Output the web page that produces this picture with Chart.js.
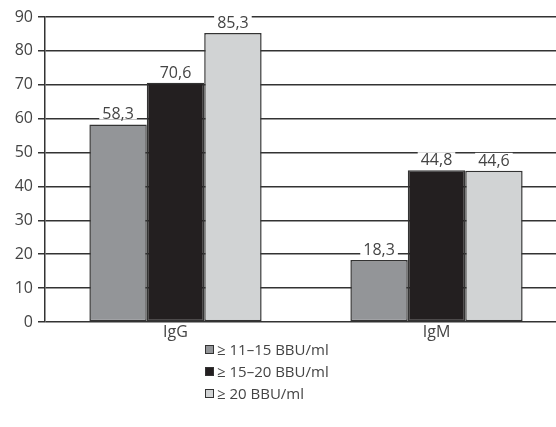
<!DOCTYPE html>
<html>
<head>
<meta charset="utf-8">
<script src="https://cdn.jsdelivr.net/npm/chart.js@4"></script>
<style>
  body { margin: 0; background: #fff; overflow: hidden; width: 556px; height: 427px; }
  #wrap { position: absolute; left: 0; top: 0; width: 567px; height: 351px; }
  #legend { position: absolute; left: 205px; top: 338px; font: 15px "Open Sans", sans-serif; color: #444; }
  #legend div { height: 22px; line-height: 22px; display: flex; align-items: center; }
  #legend span.box { display: inline-block; width: 7px; height: 7px; border: 1px solid #333; margin-right: 3px; }
</style>
</head>
<body>
<div id="wrap"><canvas id="chart"></canvas></div>
<div id="legend"></div>
<script>
// antibody classes on the x axis
const categories = ["IgG", "IgM"];
// one series per titre band
const seriesNames = ["\u2265 11\u201315 BBU/ml", "\u2265 15\u201320 BBU/ml", "\u2265 20 BBU/ml"];
const band11to15 = [58.3, 18.3];
const band15to20 = [70.6, 44.8];
const band20plus = [85.3, 44.6];
const yTicks = [0, 10, 20, 30, 40, 50, 60, 70, 80, 90];

const fills = ["#939598", "#231f20", "#d1d3d4"];
const lineColor = "#333";
const textColor = "#444";
const font = { family: "'Open Sans', sans-serif", size: 16 };

// value labels above each bar, on a white patch so grid lines don't cut through
const valueLabels = {
  id: "valueLabels",
  afterDatasetsDraw(chart) {
    const ctx = chart.ctx;
    ctx.save();
    ctx.font = "16px 'Open Sans', sans-serif";
    ctx.textAlign = "center";
    ctx.textBaseline = "alphabetic";
    chart.data.datasets.forEach((ds, i) => {
      chart.getDatasetMeta(i).data.forEach((bar, j) => {
        const txt = ds.data[j].toFixed(1).replace(".", ",");
        const w = ctx.measureText(txt).width;
        const base = bar.y - 5;
        ctx.fillStyle = "#fff";
        ctx.fillRect(bar.x - w / 2 - 3, base - 13, w + 6, 13);
        ctx.fillStyle = textColor;
        ctx.fillText(txt, bar.x, base);
      });
    });
    ctx.restore();
  }
};

const chart = new Chart(document.getElementById("chart"), {
  type: "bar",
  data: {
    labels: categories,
    datasets: [band11to15, band15to20, band20plus].map((d, i) => ({
      label: seriesNames[i],
      data: d,
      backgroundColor: fills[i],
      borderColor: lineColor,
      borderWidth: 1.5,
      borderSkipped: false,
      categoryPercentage: 0.66,
      barPercentage: 1
    }))
  },
  options: {
    responsive: true,
    maintainAspectRatio: false,
    animation: false,
    layout: { padding: { top: 17, left: 0, right: 0, bottom: 0 } },
    plugins: { legend: { display: false }, tooltip: { enabled: false } },
    scales: {
      x: {
        afterFit: (s) => { s.height = 29; },
        grid: { display: false, drawTicks: false, tickLength: 0 },
        border: { display: false },
        ticks: { color: textColor, font: font, padding: 1 }
      },
      y: {
        min: 0,
        max: 90,
        afterBuildTicks: (s) => { s.ticks = yTicks.map((v) => ({ value: v })); },
        afterFit: (s) => { s.width = 45; },
        grid: { color: lineColor, lineWidth: 1.5, tickLength: 7 },
        border: { color: lineColor, width: 1.5 },
        ticks: { color: textColor, font: font, padding: 5 }
      }
    }
  },
  plugins: [valueLabels]
});

// legend stacked one item per row
const legend = document.getElementById("legend");
seriesNames.forEach((name, i) => {
  const row = document.createElement("div");
  row.innerHTML = '<span class="box" style="background:' + fills[i] + '"></span>' + name;
  legend.appendChild(row);
});
</script>
</body>
</html>
